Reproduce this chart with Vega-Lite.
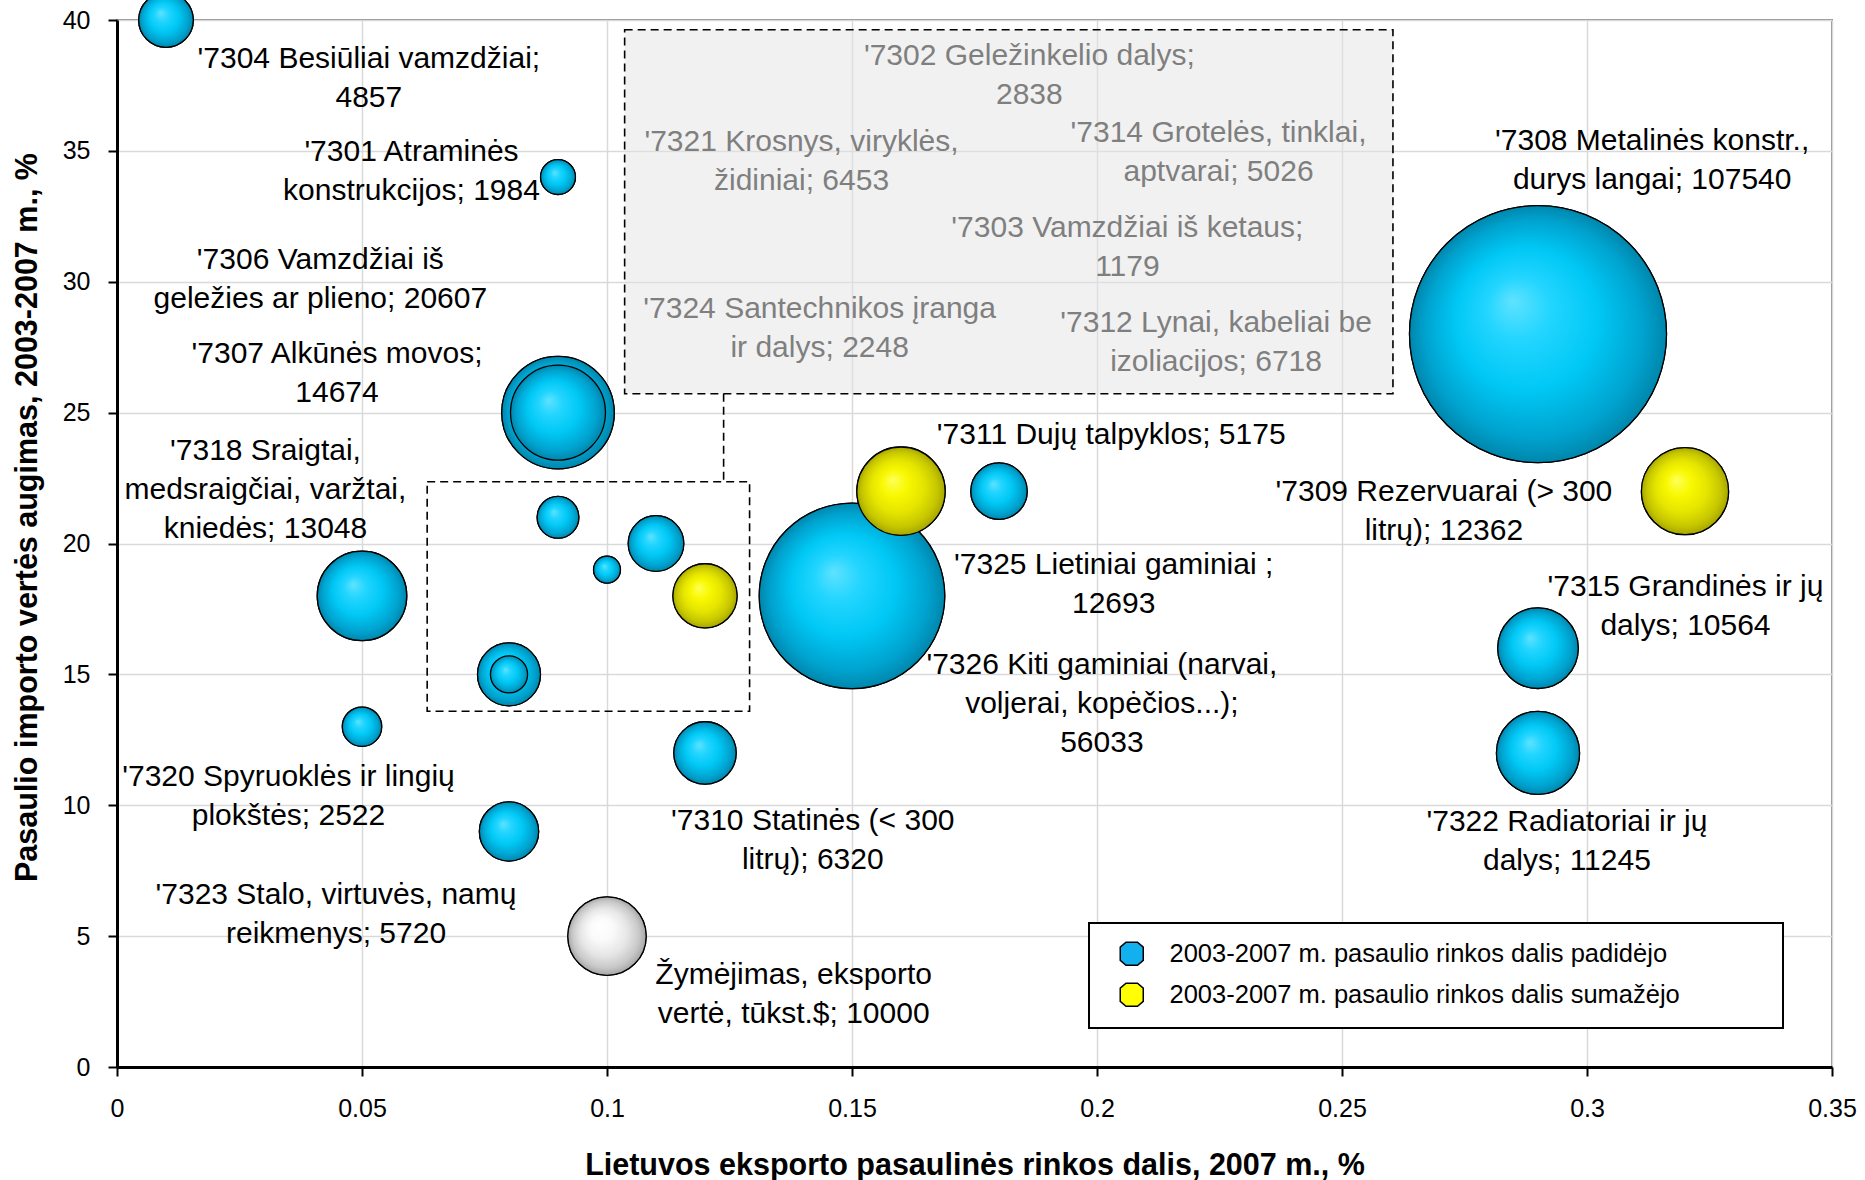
{
  "$schema": "https://vega.github.io/schema/vega-lite/v6.json",
  "width": 1715,
  "height": 1047,
  "autosize": {"type": "none"},
  "padding": {"left": 117, "top": 20, "right": 33, "bottom": 113},
  "background": "white",
  "config": {
    "font": "Liberation Sans",
    "view": {"stroke": "#8C8C8C", "strokeWidth": 2},
    "axis": {
      "domainColor": "black",
      "domainWidth": 3,
      "tickColor": "black",
      "tickWidth": 2,
      "tickSize": 9,
      "labelFont": "Liberation Sans",
      "labelFontSize": 25,
      "labelColor": "black",
      "gridColor": "#D9D9D9",
      "gridWidth": 1.5,
      "titleFont": "Liberation Sans",
      "titleFontSize": 30.5,
      "titleFontWeight": "bold",
      "titleColor": "black"
    },
    "legend": {
      "orient": "none",
      "legendX": 972,
      "legendY": 903,
      "padding": 18,
      "strokeColor": "black",
      "strokeWidth": 2,
      "fillColor": "white",
      "labelFont": "Liberation Sans",
      "labelFontSize": 25.5,
      "labelColor": "black",
      "labelLimit": 1000,
      "symbolType": "M-0.5,-1L0.5,-1L1,-0.57L1,0.57L0.5,1L-0.5,1L-1,0.57L-1,-0.57Z",
      "symbolSize": 530,
      "symbolStrokeColor": "black",
      "symbolStrokeWidth": 1.5,
      "symbolOffset": 12,
      "labelOffset": 25,
      "rowPadding": 11
    }
  },
  "datasets": {
    "bubbles": [
      {"code": "7304", "x": 0.01, "y": 40, "v": 4857, "g": "up"},
      {"code": "7301", "x": 0.09, "y": 34, "v": 1984, "g": "up"},
      {"code": "7306", "x": 0.09, "y": 25, "v": 20607, "g": "up"},
      {"code": "7307", "x": 0.09, "y": 25, "v": 14674, "g": "up"},
      {"code": "7318", "x": 0.05, "y": 18, "v": 13048, "g": "up"},
      {"code": "7320", "x": 0.05, "y": 13, "v": 2522, "g": "up"},
      {"code": "7323", "x": 0.08, "y": 9, "v": 5720, "g": "up"},
      {"code": "7310", "x": 0.12, "y": 12, "v": 6320, "g": "up"},
      {"code": "7326", "x": 0.15, "y": 18, "v": 56033, "g": "up"},
      {"code": "7311", "x": 0.18, "y": 22, "v": 5175, "g": "up"},
      {"code": "7308", "x": 0.29, "y": 28, "v": 107540, "g": "up"},
      {"code": "7315", "x": 0.29, "y": 16, "v": 10564, "g": "up"},
      {"code": "7322", "x": 0.29, "y": 12, "v": 11245, "g": "up"},
      {"code": "7302", "x": 0.09, "y": 21, "v": 2838, "g": "up"},
      {"code": "7314", "x": 0.11, "y": 20, "v": 5026, "g": "up"},
      {"code": "7303", "x": 0.10, "y": 19, "v": 1179, "g": "up"},
      {"code": "7321", "x": 0.08, "y": 15, "v": 6453, "g": "up"},
      {"code": "7324", "x": 0.08, "y": 15, "v": 2248, "g": "up"},
      {"code": "7325", "x": 0.16, "y": 22, "v": 12693, "g": "down"},
      {"code": "7309", "x": 0.32, "y": 22, "v": 12362, "g": "down"},
      {"code": "7312", "x": 0.12, "y": 18, "v": 6718, "g": "down"},
      {"code": "ref", "x": 0.10, "y": 5, "v": 10000, "g": "ref"}
    ],
    "labels": [
      {"t": "'7304 Besiūliai vamzdžiai;\n4857", "x": 0.0514, "y": 38.5, "tone": "main"},
      {"t": "'7301 Atraminės\nkonstrukcijos; 1984", "x": 0.0601, "y": 34.95, "tone": "main"},
      {"t": "'7306 Vamzdžiai iš\ngeležies ar plieno; 20607", "x": 0.0415, "y": 30.82, "tone": "main"},
      {"t": "'7307 Alkūnės movos;\n14674", "x": 0.0449, "y": 27.23, "tone": "main"},
      {"t": "'7318 Sraigtai,\nmedsraigčiai, varžtai,\nkniedės; 13048", "x": 0.0303, "y": 23.55, "tone": "main"},
      {"t": "'7320 Spyruoklės ir lingių\nplokštės; 2522", "x": 0.035, "y": 11.09, "tone": "main"},
      {"t": "'7323 Stalo, virtuvės, namų\nreikmenys; 5720", "x": 0.0447, "y": 6.59, "tone": "main"},
      {"t": "Žymėjimas, eksporto\nvertė, tūkst.$; 10000", "x": 0.1381, "y": 3.5, "tone": "main"},
      {"t": "'7310 Statinės (< 300\nlitrų); 6320", "x": 0.142, "y": 9.41, "tone": "main"},
      {"t": "'7326 Kiti gaminiai (narvai,\nvoljerai, kopėčios...);\n56033", "x": 0.201, "y": 15.36, "tone": "main"},
      {"t": "'7325 Lietiniai gaminiai ;\n12693", "x": 0.2034, "y": 19.18, "tone": "main"},
      {"t": "'7311 Dujų talpyklos; 5175", "x": 0.2029, "y": 24.14, "tone": "main"},
      {"t": "'7309 Rezervuarai (> 300\nlitrų); 12362", "x": 0.2708, "y": 21.95, "tone": "main"},
      {"t": "'7308 Metalinės konstr.,\ndurys langai; 107540", "x": 0.3133, "y": 35.36, "tone": "main"},
      {"t": "'7315 Grandinės ir jų\ndalys; 10564", "x": 0.3201, "y": 18.32, "tone": "main"},
      {"t": "'7322 Radiatoriai ir jų\ndalys; 11245", "x": 0.2959, "y": 9.36, "tone": "main"},
      {"t": "'7302 Geležinkelio dalys;\n2838", "x": 0.1862, "y": 38.64, "tone": "box"},
      {"t": "'7321 Krosnys, viryklės,\nžidiniai; 6453", "x": 0.1397, "y": 35.32, "tone": "box"},
      {"t": "'7314 Grotelės, tinklai,\naptvarai; 5026", "x": 0.2248, "y": 35.68, "tone": "box"},
      {"t": "'7303 Vamzdžiai iš ketaus;\n1179", "x": 0.2062, "y": 32.05, "tone": "box"},
      {"t": "'7324 Santechnikos įranga\nir dalys; 2248", "x": 0.1434, "y": 28.95, "tone": "box"},
      {"t": "'7312 Lynai, kabeliai be\nizoliacijos; 6718", "x": 0.2243, "y": 28.41, "tone": "box"}
    ],
    "boxes": [
      {"kind": "labels", "x": 0.1036, "x2": 0.2604, "y": 39.63, "y2": 25.72},
      {"kind": "zone", "x": 0.0633, "x2": 0.1291, "y": 22.36, "y2": 13.59}
    ],
    "connector": [
      {"x": 0.1238, "y": 25.72, "y2": 22.36}
    ]
  },
  "layer": [
    {
      "data": {"name": "boxes"},
      "transform": [{"filter": "datum.kind === 'labels'"}],
      "mark": {"type": "rect", "fill": "#E3E3E3", "fillOpacity": 0.5, "stroke": "black", "strokeWidth": 1.6, "strokeDash": [8, 5]},
      "encoding": {
        "x": {
          "field": "x", "type": "quantitative",
          "scale": {"domain": [0, 0.35], "nice": false, "zero": true},
          "axis": {
            "title": "Lietuvos eksporto pasaulinės rinkos dalis, 2007 m., %",
            "values": [0, 0.05, 0.1, 0.15, 0.2, 0.25, 0.3, 0.35],
            "format": ".2~f",
            "labelFlush": false,
            "labelPadding": 20,
            "titleY": 107,
            "titleBaseline": "alphabetic"
          }
        },
        "x2": {"field": "x2"},
        "y": {
          "field": "y", "type": "quantitative",
          "scale": {"domain": [0, 40], "nice": false, "zero": true},
          "axis": {
            "title": "Pasaulio importo vertės augimas, 2003-2007 m., %",
            "values": [0, 5, 10, 15, 20, 25, 30, 35, 40],
            "labelPadding": 18,
            "titleX": -81,
            "titleY": 497,
            "titleAngle": -90,
            "titleAlign": "center",
            "titleBaseline": "alphabetic"
          }
        },
        "y2": {"field": "y2"}
      }
    },
    {
      "data": {"name": "boxes"},
      "transform": [{"filter": "datum.kind === 'zone'"}],
      "mark": {"type": "rect", "fill": null, "fillOpacity": 0, "stroke": "black", "strokeWidth": 1.6, "strokeDash": [8, 5]},
      "encoding": {
        "x": {"field": "x", "type": "quantitative"},
        "x2": {"field": "x2"},
        "y": {"field": "y", "type": "quantitative"},
        "y2": {"field": "y2"}
      }
    },
    {
      "data": {"name": "connector"},
      "mark": {"type": "rule", "stroke": "black", "strokeWidth": 1.6, "strokeDash": [8, 5]},
      "encoding": {
        "x": {"field": "x", "type": "quantitative"},
        "y": {"field": "y", "type": "quantitative"},
        "y2": {"field": "y2"}
      }
    },
    {
      "data": {"name": "bubbles"},
      "mark": {"type": "circle", "opacity": 1, "stroke": "black", "strokeWidth": 1.3},
      "encoding": {
        "x": {"field": "x", "type": "quantitative"},
        "y": {"field": "y", "type": "quantitative"},
        "size": {"field": "v", "type": "quantitative", "scale": {"type": "linear", "domain": [0, 107540], "range": [0, 66049], "zero": true}, "legend": null},
        "color": {
          "field": "g", "type": "nominal",
          "scale": {"domain": ["up", "down", "ref"], "range": ["#12B0EE", "#FFFF00", "#D0D0D0"]},
          "legend": {
            "title": null,
            "values": ["up", "down"],
            "labelExpr": "datum.value === 'up' ? '2003-2007 m. pasaulio rinkos dalis padidėjo\u00a0\u00a0\u00a0\u00a0\u00a0\u00a0\u00a0\u00a0\u00a0\u00a0\u00a0\u00a0\u200b' : '2003-2007 m. pasaulio rinkos dalis sumažėjo\u00a0\u00a0\u00a0\u00a0\u00a0\u00a0\u00a0\u00a0\u00a0\u00a0\u00a0\u00a0\u200b'",
            "symbolStrokeColor": "black",
            "symbolStrokeWidth": 1.5
          }
        },
        "order": {"field": "v", "type": "quantitative", "sort": "descending"}
      }
    },
    {
      "data": {"name": "bubbles"},
      "transform": [{"filter": "datum.g === 'up'"}],
      "mark": {
        "type": "circle", "opacity": 1, "stroke": "black", "strokeWidth": 1.3,
        "fill": {
          "gradient": "radial", "x1": 0.4, "y1": 0.37, "r1": 0, "x2": 0.5, "y2": 0.5, "r2": 0.5,
          "stops": [
            {"offset": 0, "color": "#5FE2FF"},
            {"offset": 0.25, "color": "#22D5FF"},
            {"offset": 0.55, "color": "#00C8F5"},
            {"offset": 0.85, "color": "#00A2CE"},
            {"offset": 1, "color": "#0086AC"}
          ]
        }
      },
      "encoding": {
        "x": {"field": "x", "type": "quantitative"},
        "y": {"field": "y", "type": "quantitative"},
        "size": {"field": "v", "type": "quantitative", "legend": null},
        "order": {"field": "v", "type": "quantitative", "sort": "descending"}
      }
    },
    {
      "data": {"name": "bubbles"},
      "transform": [{"filter": "datum.g === 'down'"}],
      "mark": {
        "type": "circle", "opacity": 1, "stroke": "black", "strokeWidth": 1.3,
        "fill": {
          "gradient": "radial", "x1": 0.4, "y1": 0.37, "r1": 0, "x2": 0.5, "y2": 0.5, "r2": 0.5,
          "stops": [
            {"offset": 0, "color": "#FFFF5A"},
            {"offset": 0.3, "color": "#F8F800"},
            {"offset": 0.6, "color": "#E4E400"},
            {"offset": 0.85, "color": "#C6C600"},
            {"offset": 1, "color": "#A6A600"}
          ]
        }
      },
      "encoding": {
        "x": {"field": "x", "type": "quantitative"},
        "y": {"field": "y", "type": "quantitative"},
        "size": {"field": "v", "type": "quantitative", "legend": null},
        "order": {"field": "v", "type": "quantitative", "sort": "descending"}
      }
    },
    {
      "data": {"name": "bubbles"},
      "transform": [{"filter": "datum.g === 'ref'"}],
      "mark": {
        "type": "circle", "opacity": 1, "stroke": "black", "strokeWidth": 1.3,
        "fill": {
          "gradient": "radial", "x1": 0.4, "y1": 0.37, "r1": 0, "x2": 0.5, "y2": 0.5, "r2": 0.5,
          "stops": [
            {"offset": 0, "color": "#FFFFFF"},
            {"offset": 0.3, "color": "#FAFAFA"},
            {"offset": 0.6, "color": "#E6E6E6"},
            {"offset": 0.85, "color": "#C8C8C8"},
            {"offset": 1, "color": "#A6A6A6"}
          ]
        }
      },
      "encoding": {
        "x": {"field": "x", "type": "quantitative"},
        "y": {"field": "y", "type": "quantitative"},
        "size": {"field": "v", "type": "quantitative", "legend": null}
      }
    },
    {
      "data": {"name": "labels"},
      "transform": [{"filter": "datum.tone === 'main'"}],
      "mark": {"type": "text", "font": "Liberation Sans", "fontSize": 30, "lineHeight": 39, "lineBreak": "\n", "align": "center", "baseline": "middle", "color": "black"},
      "encoding": {
        "x": {"field": "x", "type": "quantitative"},
        "y": {"field": "y", "type": "quantitative"},
        "text": {"field": "t"}
      }
    },
    {
      "data": {"name": "labels"},
      "transform": [{"filter": "datum.tone === 'box'"}],
      "mark": {"type": "text", "font": "Liberation Sans", "fontSize": 30, "lineHeight": 39, "lineBreak": "\n", "align": "center", "baseline": "middle", "color": "#7F7F7F"},
      "encoding": {
        "x": {"field": "x", "type": "quantitative"},
        "y": {"field": "y", "type": "quantitative"},
        "text": {"field": "t"}
      }
    }
  ]
}
